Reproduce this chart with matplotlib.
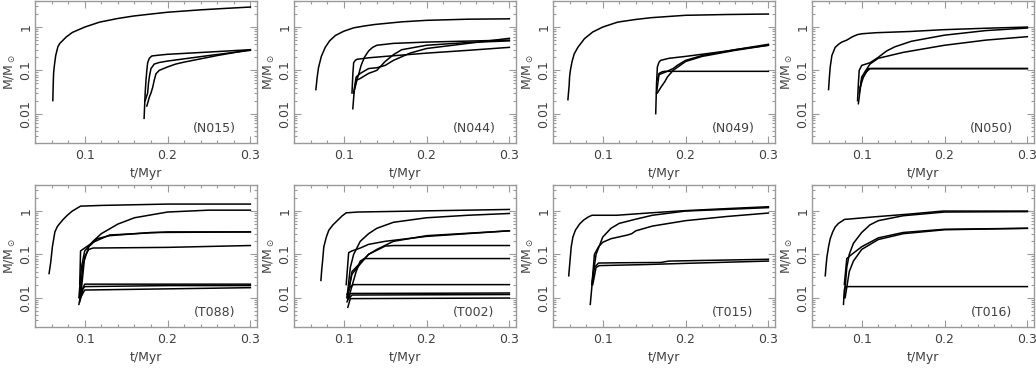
import numpy as np
import matplotlib
matplotlib.use('Agg')
import matplotlib.pyplot as plt
from matplotlib.ticker import MultipleLocator, LogLocator, NullFormatter, FixedLocator

# each track: (t values in Myr, M values in Msun)
names = ['(N015)', '(N044)', '(N049)', '(N050)', '(T088)', '(T002)', '(T015)', '(T016)']

n015 = [
    ([0.0615, 0.062, 0.0625, 0.0636, 0.065, 0.0676, 0.07, 0.0777, 0.085, 0.1, 0.118, 0.14, 0.159, 0.18, 0.2, 0.24, 0.27, 0.3],
     [0.02, 0.048, 0.09, 0.14, 0.22, 0.35, 0.42, 0.59, 0.75, 1.0, 1.3, 1.58, 1.8, 2.0, 2.2, 2.5, 2.7, 2.9]),
    ([0.1717, 0.173, 0.174, 0.175, 0.176, 0.178, 0.181, 0.19, 0.2, 0.25, 0.3],
     [0.0078, 0.03, 0.06, 0.1, 0.15, 0.19, 0.215, 0.225, 0.235, 0.265, 0.3]),
    ([0.173, 0.176, 0.177, 0.178, 0.18, 0.184, 0.19, 0.2, 0.25, 0.3],
     [0.02, 0.03, 0.05, 0.07, 0.11, 0.14, 0.152, 0.164, 0.22, 0.29]),
    ([0.175, 0.178, 0.18, 0.182, 0.184, 0.186, 0.19, 0.2, 0.21, 0.22, 0.26, 0.3],
     [0.015, 0.024, 0.03, 0.04, 0.06, 0.083, 0.1, 0.12, 0.14, 0.155, 0.22, 0.3]),
]
n044 = [
    ([0.0664, 0.068, 0.0696, 0.073, 0.0777, 0.083, 0.09, 0.1, 0.112, 0.125, 0.138, 0.17, 0.2, 0.25, 0.3],
     [0.036, 0.07, 0.116, 0.21, 0.34, 0.48, 0.64, 0.8, 0.96, 1.06, 1.15, 1.32, 1.43, 1.52, 1.55]),
    ([0.110, 0.111, 0.112, 0.114, 0.116, 0.13, 0.15, 0.2, 0.25, 0.3],
     [0.03, 0.08, 0.15, 0.17, 0.18, 0.195, 0.21, 0.25, 0.29, 0.34]),
    ([0.112, 0.115, 0.118, 0.121, 0.125, 0.13, 0.135, 0.14, 0.16, 0.2, 0.3],
     [0.03, 0.055, 0.08, 0.13, 0.2, 0.28, 0.34, 0.38, 0.42, 0.45, 0.5]),
    ([0.111, 0.113, 0.115, 0.12, 0.13, 0.14, 0.15, 0.16, 0.18, 0.2, 0.25, 0.3],
     [0.013, 0.04, 0.07, 0.085, 0.11, 0.115, 0.13, 0.17, 0.25, 0.32, 0.42, 0.55]),
    ([0.112, 0.116, 0.12, 0.13, 0.14, 0.15, 0.16, 0.17, 0.2, 0.25, 0.3],
     [0.03, 0.06, 0.065, 0.085, 0.1, 0.16, 0.23, 0.3, 0.38, 0.44, 0.48]),
]
n049 = [
    ([0.058, 0.0595, 0.06, 0.061, 0.063, 0.0656, 0.07, 0.078, 0.088, 0.1, 0.118, 0.14, 0.159, 0.2, 0.25, 0.3],
     [0.021, 0.045, 0.07, 0.1, 0.16, 0.24, 0.34, 0.54, 0.77, 1.0, 1.3, 1.5, 1.65, 1.87, 1.95, 2.0]),
    ([0.164, 0.165, 0.166, 0.168, 0.17, 0.18, 0.2, 0.25, 0.3],
     [0.01, 0.05, 0.12, 0.155, 0.17, 0.19, 0.21, 0.28, 0.4]),
    ([0.165, 0.168, 0.175, 0.185, 0.19, 0.2, 0.22, 0.26, 0.3],
     [0.03, 0.08, 0.09, 0.11, 0.13, 0.17, 0.22, 0.3, 0.38]),
    ([0.166, 0.17, 0.175, 0.178, 0.185, 0.2, 0.22, 0.26, 0.3],
     [0.03, 0.04, 0.055, 0.07, 0.1, 0.16, 0.21, 0.29, 0.38]),
    ([0.166, 0.168, 0.172, 0.175, 0.3],
     [0.06, 0.085, 0.093, 0.095, 0.095]),
]
n050 = [
    ([0.06, 0.061, 0.062, 0.064, 0.068, 0.072, 0.076, 0.082, 0.089, 0.095, 0.1, 0.117, 0.158, 0.199, 0.25, 0.3],
     [0.036, 0.07, 0.12, 0.22, 0.34, 0.4, 0.45, 0.5, 0.6, 0.67, 0.7, 0.74, 0.79, 0.87, 0.94, 1.0]),
    ([0.095, 0.096, 0.097, 0.1, 0.11, 0.12, 0.13, 0.14, 0.16, 0.2, 0.25, 0.3],
     [0.02, 0.05, 0.1, 0.13, 0.15, 0.2, 0.28, 0.35, 0.47, 0.65, 0.83, 0.95]),
    ([0.096, 0.1, 0.105, 0.11, 0.12, 0.15, 0.2, 0.25, 0.3],
     [0.017, 0.07, 0.1, 0.14, 0.19, 0.26, 0.38, 0.5, 0.6]),
    ([0.097, 0.1, 0.105, 0.11, 0.3],
     [0.03, 0.06, 0.09, 0.11, 0.11]),
    ([0.098, 0.102, 0.108, 0.3],
     [0.04, 0.07, 0.11, 0.11]),
]
t088 = [
    ([0.057, 0.059, 0.061, 0.064, 0.067, 0.07, 0.074, 0.079, 0.085, 0.095, 0.12, 0.2, 0.3],
     [0.036, 0.066, 0.15, 0.33, 0.44, 0.52, 0.64, 0.8, 1.0, 1.3, 1.35, 1.45, 1.45]),
    ([0.093, 0.096, 0.1, 0.11, 0.12, 0.14, 0.16, 0.2, 0.25, 0.3],
     [0.01, 0.05, 0.12, 0.2, 0.3, 0.5, 0.7, 0.95, 1.05, 1.05]),
    ([0.094, 0.098, 0.105, 0.115, 0.13, 0.18, 0.3],
     [0.01, 0.06, 0.15, 0.23, 0.27, 0.32, 0.33]),
    ([0.094, 0.095, 0.1, 0.11, 0.13, 0.2, 0.3],
     [0.02, 0.12, 0.14, 0.19, 0.28, 0.33, 0.33]),
    ([0.095, 0.1, 0.105, 0.11, 0.2, 0.3],
     [0.01, 0.09, 0.13, 0.14, 0.145, 0.16]),
    ([0.093, 0.096, 0.1, 0.3],
     [0.007, 0.014, 0.0205, 0.0205]),
    ([0.094, 0.098, 0.1, 0.2, 0.3],
     [0.008, 0.016, 0.018, 0.019, 0.019]),
    ([0.095, 0.1, 0.3],
     [0.01, 0.015, 0.017]),
]
t002 = [
    ([0.0725, 0.0735, 0.0745, 0.076, 0.079, 0.082, 0.087, 0.093, 0.098, 0.103, 0.117, 0.3],
     [0.025, 0.045, 0.07, 0.15, 0.25, 0.36, 0.48, 0.62, 0.77, 0.91, 0.95, 1.09]),
    ([0.104, 0.108, 0.112, 0.12, 0.13, 0.14, 0.16, 0.2, 0.25, 0.3],
     [0.01, 0.05, 0.1, 0.2, 0.3, 0.4, 0.55, 0.7, 0.8, 0.88]),
    ([0.103, 0.106, 0.11, 0.12, 0.13, 0.15, 0.2, 0.3],
     [0.02, 0.11, 0.12, 0.14, 0.17, 0.2, 0.26, 0.35]),
    ([0.104, 0.107, 0.11, 0.12, 0.13, 0.14, 0.16, 0.2, 0.3],
     [0.01, 0.02, 0.035, 0.06, 0.1, 0.13, 0.2, 0.27, 0.35]),
    ([0.105, 0.11, 0.13, 0.15, 0.16, 0.3],
     [0.01, 0.04, 0.1, 0.155, 0.16, 0.16]),
    ([0.106, 0.115, 0.12, 0.125, 0.3],
     [0.01, 0.04, 0.07, 0.08, 0.08]),
    ([0.104, 0.108, 0.112, 0.3],
     [0.012, 0.018, 0.02, 0.02]),
    ([0.104, 0.108, 0.3],
     [0.008, 0.0125, 0.0128]),
    ([0.105, 0.11, 0.3],
     [0.009, 0.0115, 0.0118]),
    ([0.105, 0.108, 0.3],
     [0.006, 0.0095, 0.0098]),
]
t015 = [
    ([0.059, 0.0605, 0.062, 0.064, 0.067, 0.072, 0.077, 0.082, 0.087, 0.117, 0.158, 0.198, 0.25, 0.3],
     [0.032, 0.07, 0.15, 0.25, 0.36, 0.5, 0.62, 0.72, 0.8, 0.8, 0.91, 1.02, 1.14, 1.26]),
    ([0.085, 0.088, 0.092, 0.1, 0.11, 0.12, 0.14, 0.16, 0.2, 0.3],
     [0.007, 0.03, 0.1, 0.25, 0.4, 0.52, 0.65, 0.8, 1.0, 1.2]),
    ([0.087, 0.09, 0.095, 0.1, 0.11, 0.13, 0.135, 0.14, 0.16, 0.2, 0.25, 0.3],
     [0.02, 0.1, 0.15, 0.19, 0.23, 0.28, 0.3, 0.35, 0.45, 0.6, 0.75, 0.9]),
    ([0.087, 0.09, 0.095, 0.12, 0.17, 0.18, 0.3],
     [0.02, 0.05, 0.063, 0.064, 0.065, 0.07, 0.077]),
    ([0.088, 0.092, 0.096, 0.15, 0.2, 0.3],
     [0.02, 0.05, 0.055, 0.058, 0.062, 0.07]),
]
t016 = [
    ([0.056, 0.057, 0.058, 0.06, 0.062, 0.065, 0.068, 0.072, 0.077, 0.079, 0.117, 0.157, 0.198, 0.3],
     [0.032, 0.055, 0.087, 0.15, 0.23, 0.33, 0.43, 0.52, 0.6, 0.64, 0.74, 0.85, 1.0, 1.0]),
    ([0.079, 0.082, 0.085, 0.09, 0.1, 0.11, 0.12, 0.15, 0.2, 0.3],
     [0.01, 0.05, 0.1, 0.18, 0.32, 0.48, 0.6, 0.78, 0.95, 0.97]),
    ([0.079, 0.082, 0.088, 0.1, 0.12, 0.15, 0.2, 0.3],
     [0.02, 0.08, 0.1, 0.15, 0.24, 0.32, 0.38, 0.4]),
    ([0.08, 0.085, 0.09, 0.1, 0.12, 0.15, 0.2, 0.3],
     [0.01, 0.04, 0.07, 0.13, 0.22, 0.3, 0.37, 0.4]),
    ([0.078, 0.079, 0.08, 0.3],
     [0.007, 0.015, 0.018, 0.018]),
]

panels = [n015, n044, n049, n050, t088, t002, t015, t016]

W, H = 1036, 368
fig = plt.figure(figsize=(W / 100, H / 100), dpi=100)

frame_col = '#9a9a9a'
text_col = '#404040'

for i, (tracks, name) in enumerate(zip(panels, names)):
    row, col = divmod(i, 4)
    left = 35 + 259 * col
    top = 1 if row == 0 else 185
    ax = fig.add_axes([left / W, 1 - (top + 142) / H, 222 / W, 142 / H])
    for t, m in tracks:
        ax.plot(t, m, color='black', lw=1.1)
    ax.set_yscale('log')
    ax.set_xlim(0.04, 0.308)
    ax.set_ylim(0.0021, 4.0)
    ax.xaxis.set_major_locator(FixedLocator([0.1, 0.2, 0.3]))
    ax.xaxis.set_minor_locator(MultipleLocator(0.02))
    ax.yaxis.set_major_locator(LogLocator(base=10, numticks=10))
    ax.yaxis.set_minor_locator(LogLocator(base=10, subs=np.arange(2, 10), numticks=10))
    ax.yaxis.set_minor_formatter(NullFormatter())
    ax.set_xticklabels(['0.1', '0.2', '0.3'])
    ax.set_yticks([0.01, 0.1, 1])
    ax.set_yticklabels(['0.01', '0.1', '1'], rotation=90, va='center')
    ax.tick_params(which='both', direction='in', top=True, right=True,
                   colors=frame_col, labelcolor=text_col, labelsize=9)
    ax.tick_params(which='major', length=5, width=0.8)
    ax.tick_params(which='minor', length=2.5, width=0.8)
    ax.tick_params(axis='y', pad=2)
    ax.tick_params(axis='x', pad=4)
    for s in ax.spines.values():
        s.set_color(frame_col)
        s.set_linewidth(1.0)
    ax.set_xlabel('t/Myr', color=text_col, fontsize=9, labelpad=4)
    ax.set_ylabel(r'M/M$_\odot$', color=text_col, fontsize=9, labelpad=1)
    ax.text(0.81, 0.10, name, transform=ax.transAxes, ha='center', va='center',
            color=text_col, fontsize=9)

fig.savefig('out.png', dpi=100)
